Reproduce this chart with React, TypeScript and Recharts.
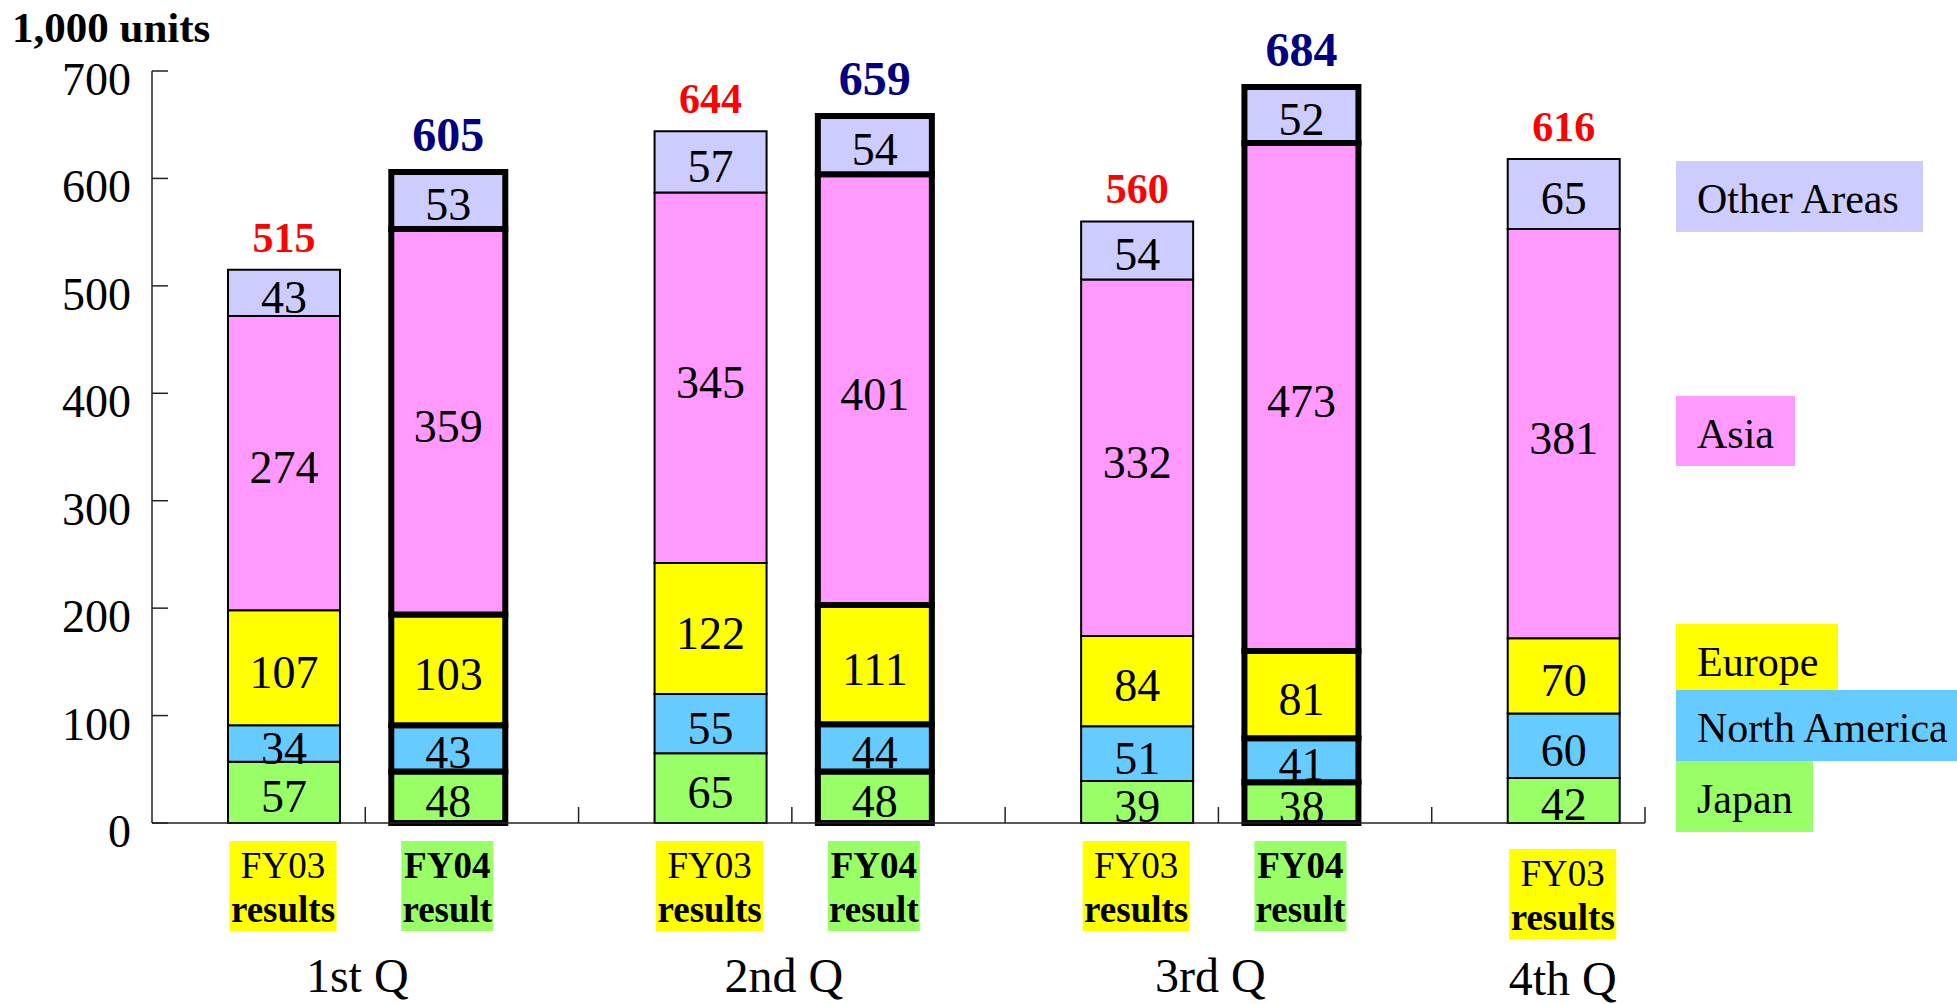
import { BarChart, Bar, XAxis, YAxis, LabelList, Legend } from 'recharts';

document.body.style.margin = '0';

// one slot per bar, left to right
const categories = ['1st Q FY03', '1st Q FY04', '2nd Q FY03', '2nd Q FY04', '3rd Q FY03', '3rd Q FY04', '4th Q FY03'];
const fiscalYears = ['FY03', 'FY04', 'FY03', 'FY04', 'FY03', 'FY04', 'FY03'];
const quarterOf = [0, 0, 1, 1, 2, 2, 3];
const quarterLabels = ['1st Q', '2nd Q', '3rd Q', '4th Q'];
const yearCaptions: Record<string, string[]> = { FY03: ['FY03', 'results'], FY04: ['FY04', 'result'] };

// 1,000 units, bottom to top
const japan = [57, 48, 65, 48, 39, 38, 42];
const northAmerica = [34, 43, 55, 44, 51, 41, 60];
const europe = [107, 103, 122, 111, 84, 81, 70];
const asia = [274, 359, 345, 401, 332, 473, 381];
const otherAreas = [43, 53, 57, 54, 54, 52, 65];
const totals = [515, 605, 644, 659, 560, 684, 616];
const yTicks = [0, 100, 200, 300, 400, 500, 600, 700];

const regions = [
  { key: 'japan', name: 'Japan', values: japan },
  { key: 'northAmerica', name: 'North America', values: northAmerica },
  { key: 'europe', name: 'Europe', values: europe },
  { key: 'asia', name: 'Asia', values: asia },
  { key: 'otherAreas', name: 'Other Areas', values: otherAreas },
];

const COLORS: Record<string, string> = {
  japan: '#99FF66',
  northAmerica: '#66CCFF',
  europe: '#FFFF00',
  asia: '#FF99FF',
  otherAreas: '#CCCCFF',
};

const W = 1957;
const H = 1004;
const MARGIN = { top: 71, right: 312, bottom: 0, left: 0 };
const Y_AXIS_W = 152;
const X_AXIS_H = 181;
const BAND = (W - MARGIN.left - MARGIN.right - Y_AXIS_W) / categories.length;
const BAR = { FY04: 114, FY03: 112 };
const BAR_GAP = -64;
const STROKE = { FY04: 6, FY03: 2 };
const AXIS_COLOR = '#222';
const FONT = '"Liberation Serif", "Times New Roman", serif';

// where each year's bar sits inside its slot (same math as recharts)
const groupOffset = Math.floor((BAND - (BAR.FY04 + BAR.FY03 + BAR_GAP)) / 2);
const barShift: Record<string, number> = {
  FY04: groupOffset + BAR.FY04 / 2 - BAND / 2,
  FY03: groupOffset + BAR.FY04 + BAR_GAP + BAR.FY03 / 2 - BAND / 2,
};

const rows = categories.map((cat, i) => {
  const yr = fiscalYears[i];
  const row: any = { cat };
  regions.forEach((r) => {
    row[`${yr}_${r.key}`] = r.values[i];
  });
  row[`${yr}_total`] = totals[i];
  return row;
});

const SegmentLabel = (props: any) => {
  const { x, y, width, height, value } = props;
  if (value == null || value === 0) return null;
  return (
    <text x={x + width / 2} y={y + height / 2 + 20} textAnchor="middle" fontSize={46} fill="#000">
      {value}
    </text>
  );
};

const makeTotalLabel = (color: string, size: number, lift: number) => (props: any) => {
  const { x, y, width, value } = props;
  if (value == null || value === 0) return null;
  return (
    <text x={x + width / 2} y={y - lift} textAnchor="middle" fontSize={size} fontWeight="bold" fill={color}>
      {value}
    </text>
  );
};
const totalLabels: Record<string, any> = {
  FY03: makeTotalLabel('#FF0000', 42, 18),
  FY04: makeTotalLabel('#000080', 48, 21),
};

const YTick = ({ x, y, payload }: any) => (
  <g>
    <line x1={x} x2={x + 16} y1={y} y2={y} stroke={AXIS_COLOR} strokeWidth={1.5} />
    <text x={x - 21} y={y + 24} textAnchor="end" fontSize={46} fill="#000">
      {payload.value}
    </text>
  </g>
);

const XTick = ({ x, y, payload }: any) => {
  const i = payload.index;
  const yr = fiscalYears[i];
  const q = quarterOf[i];
  const lone = quarterOf.filter((v) => v === q).length === 1;
  const cx = x + barShift[yr];
  const boxW = yr === 'FY03' ? 107 : 92;
  const top = y + (lone ? 26 : 18);
  const [line1, line2] = yearCaptions[yr];
  const showQuarter = yr === 'FY03';
  const qx = lone ? cx : x + BAND / 2 - 8;
  return (
    <g>
      {i > 0 && <line x1={x - BAND / 2} x2={x - BAND / 2} y1={y} y2={y - 16} stroke={AXIS_COLOR} strokeWidth={1.5} />}
      {i === categories.length - 1 && (
        <line x1={x + BAND / 2} x2={x + BAND / 2} y1={y} y2={y - 16} stroke={AXIS_COLOR} strokeWidth={1.5} />
      )}
      <rect x={cx - boxW / 2} y={top} width={boxW} height={90} fill={yr === 'FY03' ? COLORS.europe : COLORS.japan} />
      <text x={cx} y={top + 37} textAnchor="middle" fontSize={37} fontWeight={yr === 'FY04' ? 'bold' : 'normal'} fill="#000">
        {line1}
      </text>
      <text x={cx} y={top + 81} textAnchor="middle" fontSize={37} fontWeight="bold" fill="#000">
        {line2}
      </text>
      {showQuarter && (
        <text x={qx} y={y + (lone ? 172 : 169)} textAnchor="middle" fontSize={48} fill="#000">
          {quarterLabels[q]}
        </text>
      )}
    </g>
  );
};

const UnitLabel = ({ viewBox }: any) => (
  <text x={viewBox.x + 12} y={viewBox.y - 29} fontSize={43} fontWeight="bold" fill="#000">
    1,000 units
  </text>
);

// legend boxes, top to bottom
const legendLayout = [
  { key: 'otherAreas', top: 0, width: 247, height: 71 },
  { key: 'asia', top: 235, width: 119, height: 70 },
  { key: 'europe', top: 463, width: 162, height: 66 },
  { key: 'northAmerica', top: 529, width: 281, height: 71 },
  { key: 'japan', top: 600, width: 137, height: 71 },
];

const LegendBoxes = () => (
  <div style={{ position: 'relative', width: 281, height: 671, fontFamily: FONT }}>
    {legendLayout.map((item) => {
      const region = regions.find((r) => r.key === item.key)!;
      return (
        <div
          key={item.key}
          style={{
            position: 'absolute',
            left: 0,
            top: item.top,
            width: item.width,
            height: item.height,
            background: COLORS[item.key],
            overflow: 'hidden',
          }}
        >
          <span
            style={{
              position: 'absolute',
              left: 21,
              top: 15,
              fontSize: 42,
              lineHeight: '46px',
              whiteSpace: 'nowrap',
              color: '#000',
            }}
          >
            {region.name}
          </span>
        </div>
      );
    })}
  </div>
);

export default function App() {
  const years = ['FY04', 'FY03'] as const;
  return (
    <div style={{ width: W, height: H, fontFamily: FONT, background: '#fff' }}>
      <BarChart width={W} height={H} data={rows} margin={MARGIN} barGap={BAR_GAP} style={{ fontFamily: FONT }}>
        <XAxis
          dataKey="cat"
          type="category"
          height={X_AXIS_H}
          interval={0}
          tickLine={false}
          tickSize={0}
          tickMargin={0}
          axisLine={{ stroke: AXIS_COLOR, strokeWidth: 1.5 }}
          tick={<XTick />}
        />
        <YAxis
          width={Y_AXIS_W}
          domain={[0, 700]}
          ticks={yTicks}
          interval={0}
          tickLine={false}
          tickSize={0}
          tickMargin={0}
          axisLine={{ stroke: AXIS_COLOR, strokeWidth: 1.5 }}
          tick={<YTick />}
          label={<UnitLabel />}
        />
        <Legend
          layout="vertical"
          align="center"
          verticalAlign="middle"
          wrapperStyle={{ position: 'absolute', left: 1676, top: 161, width: 281, height: 671 }}
          content={<LegendBoxes />}
        />
        {years.map((yr) =>
          regions.map((r, ri) => (
            <Bar
              key={`${yr}_${r.key}`}
              dataKey={`${yr}_${r.key}`}
              name={r.name}
              stackId={yr}
              barSize={BAR[yr]}
              fill={COLORS[r.key]}
              stroke="#000"
              strokeWidth={STROKE[yr]}
              isAnimationActive={false}
            >
              <LabelList dataKey={`${yr}_${r.key}`} content={SegmentLabel} />
              {ri === regions.length - 1 && <LabelList dataKey={`${yr}_total`} content={totalLabels[yr]} />}
            </Bar>
          ))
        )}
      </BarChart>
    </div>
  );
}
